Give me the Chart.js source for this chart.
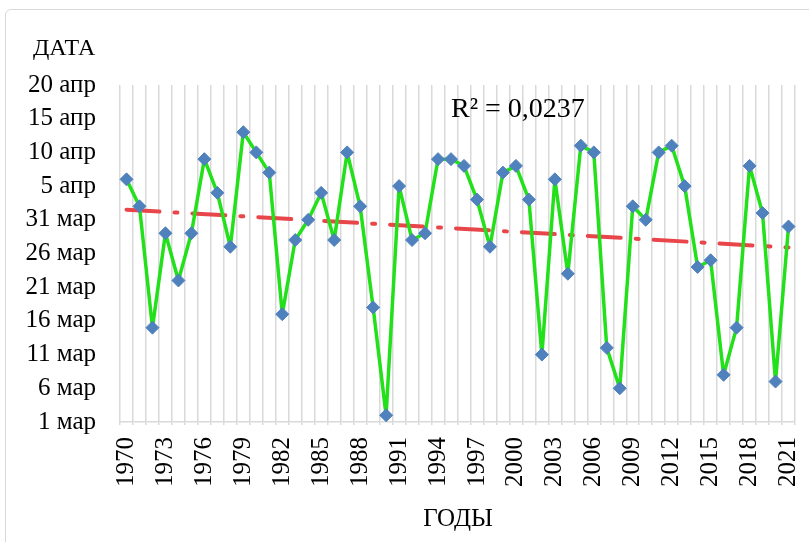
<!DOCTYPE html>
<html><head><meta charset="utf-8">
<script src="https://cdn.jsdelivr.net/npm/chart.js@4/dist/chart.umd.min.js"></script>
<style>
html,body{margin:0;padding:0;background:#fff;overflow:hidden;}
#wrap{position:relative;width:809px;height:542px;}
#frame{position:absolute;left:5px;top:9px;width:900px;height:700px;border:1.5px solid #d9d9d9;border-radius:6px;box-sizing:border-box;}
canvas{position:absolute;left:0;top:0;}
</style>
</head><body>
<div id="wrap"><div id="frame"></div><canvas id="c" width="809" height="542"></canvas></div>
<script>
const years = [];
for (let y = 1970; y <= 2021; y++) years.push(String(y));
// days after 1 March (0 = 1 мар)
const dates = [36,32,14,28,21,28,39,34,26,43,40,37,16,27,30,34,27,40,32,17,1,35,27,28,39,39,38,33,26,37,38,33,10,36,22,41,40,11,5,32,30,40,41,35,23,24,7,14,38,31,6,29];
const tickValues = [0,5,10,15,20,25,30,35,40,45,50];
const tickLabels = ["1 мар","6 мар","11 мар","16 мар","21 мар","26 мар","31 мар","5 апр","10 апр","15 апр","20 апр"];
const trendStart = 31.5, trendEnd = 25.9;
const r2Text = "R² = 0,0237";
const yTitle = "ДАТА";
const xTitle = "ГОДЫ";

const trend = years.map((_, i) => i === 0 ? trendStart : (i === years.length - 1 ? trendEnd : null));
const FONT = "'Liberation Serif','Times New Roman',serif";

const textPlugin = {
  id: 'texts',
  afterDraw(chart) {
    const ctx = chart.ctx;
    ctx.save();
    ctx.fillStyle = '#000';
    ctx.textBaseline = 'middle';
    ctx.font = "24px " + FONT;
    ctx.textAlign = 'left';
    ctx.fillText(yTitle, 33, 49);
    ctx.font = "28px " + FONT;
    ctx.fillText(r2Text, 451, 110);
    ctx.font = "25px " + FONT;
    ctx.textAlign = 'center';
    ctx.fillText(xTitle, 458, 519);
    ctx.restore();
  }
};

new Chart(document.getElementById('c'), {
  type: 'line',
  data: {
    labels: years,
    datasets: [
      {
        data: dates,
        borderColor: '#22e01a',
        borderWidth: 3.5,
        borderJoinStyle: 'round',
        borderCapStyle: 'round',
        pointStyle: 'rectRot',
        pointRadius: 6.5,
        pointBackgroundColor: '#4f81bd',
        pointBorderColor: '#4f81bd',
        pointBorderWidth: 1,
        tension: 0,
        order: 1
      },
      {
        data: trend,
        spanGaps: true,
        borderColor: '#e8464a',
        borderWidth: 4,
        borderDash: [33, 15, 3, 15],
        borderCapStyle: 'round',
        pointRadius: 0,
        order: 2
      }
    ]
  },
  options: {
    responsive: false,
    animation: false,
    layout: { padding: { left: 0, top: 85, right: 14, bottom: 0 } },
    plugins: { legend: { display: false }, tooltip: { enabled: false } },
    scales: {
      x: {
        offset: true,
        grid: { offset: true, color: '#d9d9d9', lineWidth: 1.5, drawTicks: true, tickLength: 3 },
        border: { color: '#d9d9d9', width: 1.5 },
        ticks: {
          autoSkip: false,
          maxRotation: 90, minRotation: 90,
          color: '#000',
          font: { family: FONT, size: 25 },
          padding: 12,
          callback: function(v, i) { return i % 3 === 0 ? years[i] : ''; }
        },
        afterFit(s) { s.height = 120; s.paddingLeft = 0; s.paddingRight = 0; }
      },
      y: {
        min: 0, max: 50,
        grid: { display: false },
        border: { display: false },
        afterBuildTicks(s) { s.ticks = tickValues.map(v => ({ value: v })); },
        ticks: {
          color: '#000',
          font: { family: FONT, size: 25 },
          padding: 16,
          callback: function(v) { const k = tickValues.indexOf(v); return k >= 0 ? tickLabels[k] : ''; }
        },
        afterFit(s) { s.width = 120; s.paddingTop = 0; s.paddingBottom = 0; }
      }
    }
  },
  plugins: [textPlugin]
});
</script>
</body></html>
